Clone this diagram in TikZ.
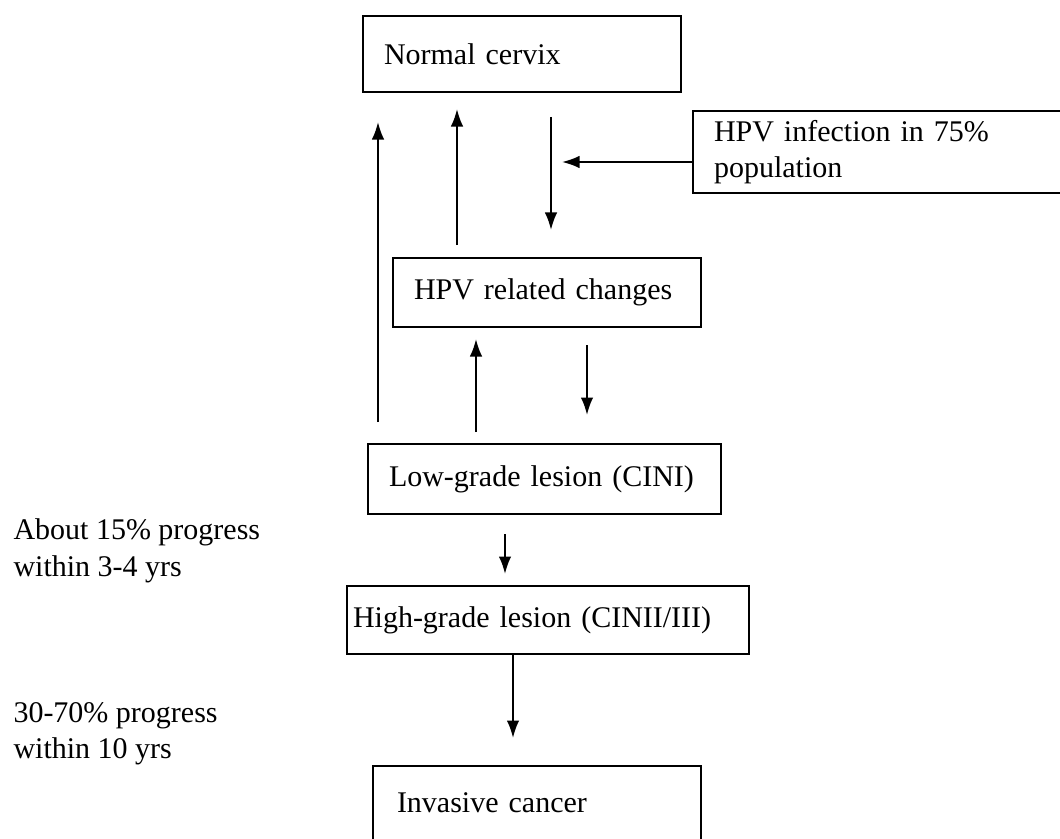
\documentclass[tikz,border=0pt]{standalone}
\usepackage{fontspec}
\setmainfont{Liberation Serif}
\usetikzlibrary{calc}
\usetikzlibrary{arrows.meta}
\tikzset{
  stagebox/.style={draw=black, line width=0.8pt, anchor=north west, align=left,
    inner xsep=8.4pt, inner ysep=0pt, font=\fontsize{12}{14.6}\selectfont},
  sidenote/.style={anchor=west, align=left, inner sep=0pt, font=\fontsize{12}{14.6}\selectfont},
  flow/.style={line width=0.8pt, -{Latex[length=7pt,width=5pt]}}
}

\begin{document}
\begin{tikzpicture}[x=0.4pt, y=-0.4pt]
\clip (0,0) rectangle (1060,839);

\node[stagebox, text width=110.4pt, minimum height=30.4pt] (normal) at (362,15) {Normal cervix};
\node[stagebox, text width=136.4pt, minimum height=32.8pt] (infect) at (692,110) {HPV infection in 75\%\\population};
\node[stagebox, text width=106.4pt, minimum height=27.6pt] (related) at (392,257) {HPV related changes};
\node[stagebox, text width=124.4pt, minimum height=28pt] (low) at (367,443) {Low-grade lesion (CINI)};
\node[stagebox, text width=156pt, inner xsep=2.4pt, minimum height=27.2pt] (high) at (346,585) {High-grade lesion (CINII/III)};
\node[stagebox, text width=112pt, inner xsep=9.6pt, minimum height=29.6pt] (invasive) at (372,765) {Invasive cancer};

\node[sidenote] (note1) at (13,551) {About 15\% progress\\within 3-4 yrs};
\node[sidenote] (note2) at (13,734) {30-70\% progress\\within 10 yrs};

% regression and infection
\draw[flow] ($(low.north west)+(11,-21)$) -- ($(normal.south west)+(16,29)$);
\draw[flow] ($(related.north west)+(65,-12)$) -- ($(normal.south west)+(95,16)$);
\draw[flow] ($(normal.south west)+(189,24)$) -- ($(related.north west)+(159,-27)$);
\draw[flow] (infect.west |- 0,162) -- (562,162);
\draw[flow] ($(low.north west)+(109,-11)$) -- ($(related.south west)+(84,11)$);
\draw[flow] ($(related.south west)+(195,17)$) -- ($(low.north west)+(220,-28)$);

% progression
\draw[flow] ($(low.south west)+(138,19)$) -- ($(high.north west)+(159,-11)$);
\draw[flow] ($(high.south west)+(167,0)$) -- ($(invasive.north west)+(141,-27)$);
\end{tikzpicture}
\end{document}
